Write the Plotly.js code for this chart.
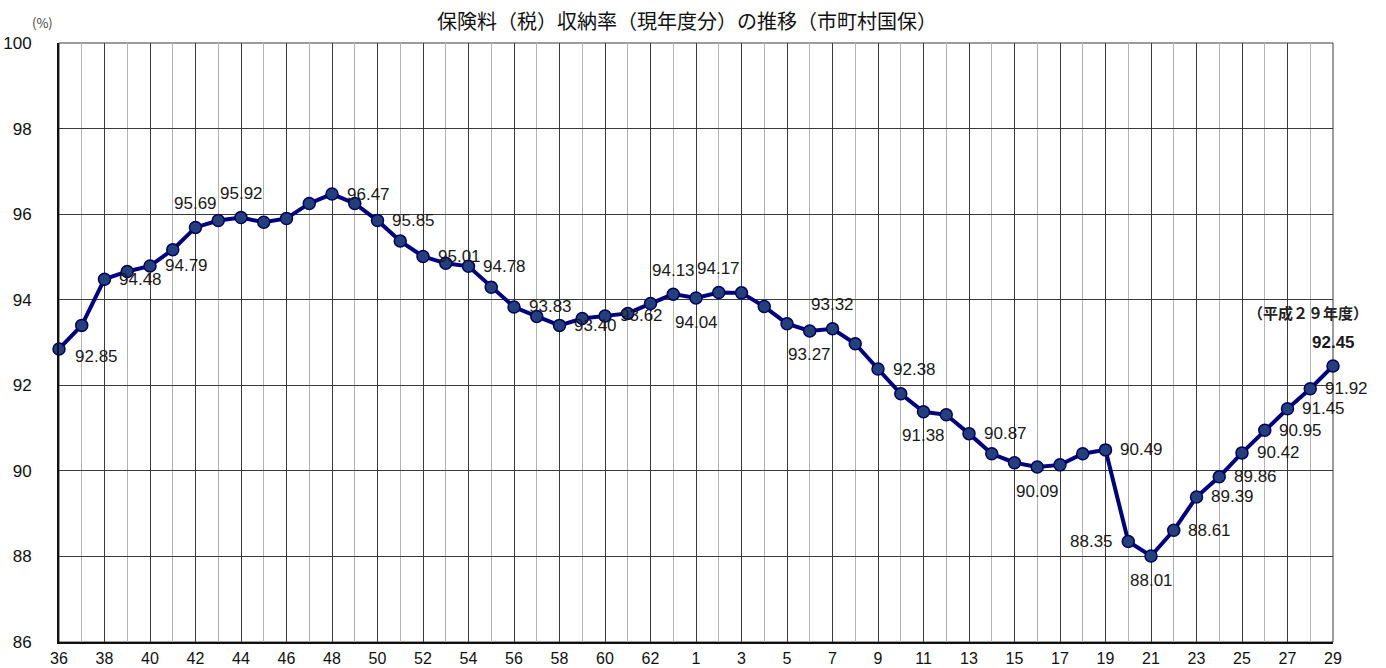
<!DOCTYPE html>
<html>
<head>
<meta charset="utf-8">
<script src="https://cdn.plot.ly/plotly-3.0.1.min.js"></script>
<style>html,body{margin:0;padding:0;background:#fff;}#chart{width:1386px;height:668px;}</style>
</head>
<body>
<div id="chart"></div>
<script>
// Fiscal years: Showa 36-63, then Heisei 1-29
const categories = ["36","37","38","39","40","41","42","43","44","45","46","47","48","49","50","51","52","53","54","55","56","57","58","59","60","61","62","63",
  "1","2","3","4","5","6","7","8","9","10","11","12","13","14","15","16","17","18","19","20","21","22","23","24","25","26","27","28","29"];
const rates = [92.85,93.40,94.48,94.66,94.79,95.17,95.69,95.85,95.92,95.81,95.90,96.25,96.47,96.25,95.85,95.37,95.01,94.85,94.78,94.29,93.83,93.61,93.40,93.56,93.62,93.68,93.91,94.13,
  94.04,94.17,94.16,93.84,93.44,93.27,93.32,92.97,92.38,91.80,91.38,91.31,90.87,90.40,90.19,90.09,90.14,90.40,90.49,88.35,88.01,88.61,89.39,89.86,90.42,90.95,91.45,91.92,92.45];
const labeledYears = ["36","38","40","42","44","48","50","52","54","56","58","60","63","1","2","6","7","9","11","13","16","19","20","21","22","23","24","25","26","27","28","29"];
const yTicks = [86,88,90,92,94,96,98,100];
const titleText = "保険料（税）収納率（現年度分）の推移（市町村国保）";
const unitText = "(%)";
const latestText = "（平成２９年度）";

// label placement (style), keyed by category
const place = {"36":"BR","42":"T","44":"T","63":"T","1":"B","2":"T","6":"B","7":"T","11":"B","16":"B","20":"L","21":"B","29":"T"};
const shifts = {R:[36,0],T:[0,24],B:[0,-24],L:[-37,0],BR:[37,-8]};

const xs = categories.map((c,i)=>i);
const tickvals = xs.filter(i=>i%2===0);
const ticktext = tickvals.map(i=>categories[i]);

const numFont = "Liberation Sans, Arial, sans-serif";
const annotations = [];
labeledYears.forEach(c=>{
  const i = categories.indexOf(c);
  const p = place[c] || "R";
  const s = shifts[p];
  const last = (i === categories.length-1);
  annotations.push({
    x: i, y: rates[i], xref:'x', yref:'y',
    text: last ? '<b>'+rates[i].toFixed(2)+'</b>' : rates[i].toFixed(2),
    showarrow:false, xanchor:'center', yanchor:'middle',
    xshift:s[0], yshift:s[1],
    font:{family:numFont, size:17, color:'#1a1a1a'}
  });
});
const lastI = categories.length-1;
annotations.push({x:lastI, y:rates[lastI], xref:'x', yref:'y', text:'<b>'+latestText+'</b>', showarrow:false,
  xanchor:'center', yanchor:'middle', xshift:-25, yshift:54,
  font:{family:"Noto Sans CJK JP, sans-serif", size:15, color:'#222'}});
annotations.push({x:-0.0126, y:1.035, xref:'paper', yref:'paper', text:unitText, showarrow:false,
  xanchor:'center', yanchor:'middle', font:{family:"Noto Sans CJK JP, sans-serif", size:13, color:'#444'}});

const trace = {
  x: xs, y: rates, type:'scatter', mode:'lines+markers',
  line:{color:'#000080', width:4},
  marker:{size:12, color:'#23407c', line:{color:'#000060', width:1.5}},
  cliponaxis:false, hoverinfo:'skip'
};

const layout = {
  width:1386, height:668,
  margin:{l:59, r:53, t:43, b:26, pad:0},
  paper_bgcolor:'#fff', plot_bgcolor:'#fff',
  showlegend:false,
  title:{text:titleText, x:687/1386, xanchor:'center', y:1-22/668, yanchor:'middle', yref:'container',
    font:{family:"Noto Sans CJK JP, sans-serif", size:20, color:'#111'}},
  xaxis:{range:[0,56], tickmode:'array', tickvals:tickvals, ticktext:ticktext,
    showgrid:true, gridcolor:'#3a3a3a', gridwidth:1,
    minor:{tickmode:'linear', tick0:0, dtick:1, showgrid:true, gridcolor:'#b4b4b4', gridwidth:1, ticks:''},
    showline:true, linecolor:'#111', linewidth:2, ticks:'', zeroline:false,
    ticklabelstandoff:1,
    tickfont:{family:numFont, size:16, color:'#111'}},
  yaxis:{range:[86,100], tickmode:'array', tickvals:yTicks, ticktext:yTicks.map(String),
    showgrid:true, gridcolor:'#3a3a3a', gridwidth:1,
    showline:true, linecolor:'#111', linewidth:2, ticks:'', zeroline:false,
    ticklabelstandoff:22,
    tickfont:{family:numFont, size:17, color:'#111'}},
  shapes:[{type:'rect', xref:'paper', yref:'paper', x0:0, x1:1, y0:0, y1:1, layer:'below',
    line:{color:'#3a3a3a', width:1}}],
  annotations:annotations
};

Plotly.newPlot('chart',[trace],layout,{displayModeBar:false, staticPlot:true});
</script>
</body>
</html>
